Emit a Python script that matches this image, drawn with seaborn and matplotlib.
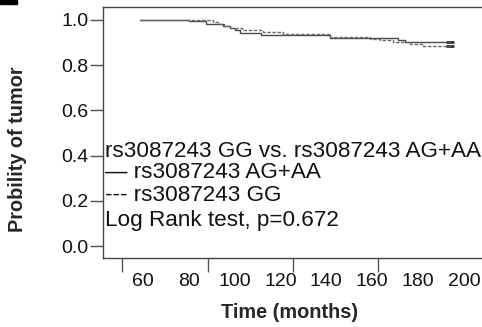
import seaborn as sns
import pandas as pd
import numpy as np
import matplotlib.pyplot as plt
from matplotlib.patches import Rectangle

# Kaplan-Meier step values
time_ag_aa = [58.7, 80, 87.6, 95.1, 98, 100.3, 102.5, 111.5, 141.5, 171.3, 174.3, 193.9]
surv_ag_aa = [1.0, 0.997, 0.984, 0.973, 0.964, 0.955, 0.942, 0.932, 0.920, 0.912, 0.902, 0.902]

time_gg = [58.7, 90.5, 93, 95.5, 98, 103, 112.5, 121, 141.5, 159, 163.4, 169.2, 176.4, 182.2, 193.9]
surv_gg = [1.0, 0.992, 0.983, 0.974, 0.966, 0.956, 0.946, 0.937, 0.925, 0.917, 0.910, 0.901, 0.895, 0.887, 0.887]

groups = ["rs3087243 AG+AA", "rs3087243 GG"]
x_labels = [60, 80, 100, 120, 140, 160, 180, 200]
x_marks = [50.8, 88.3, 125.4, 162.4, 200]
y_ticks = [0.0, 0.2, 0.4, 0.6, 0.8, 1.0]
notes = ["rs3087243 GG vs. rs3087243 AG+AA",
         "\u2014 rs3087243 AG+AA",
         "--- rs3087243 GG",
         "Log Rank test, p=0.672"]

df = pd.concat([
    pd.DataFrame({"time": time_ag_aa, "surv": surv_ag_aa, "group": groups[0]}),
    pd.DataFrame({"time": time_gg, "surv": surv_gg, "group": groups[1]}),
])

sns.set_style("white")
plt.rcParams['font.family'] = ['Liberation Sans', 'DejaVu Sans']

fig = plt.figure(figsize=(4.82, 3.27), dpi=100)
ax = fig.add_axes([0.2137, 0.211, 0.784, 0.7676])

sns.lineplot(data=df, x="time", y="surv", hue="group", style="group",
             palette={groups[0]: "#4a4a4a", groups[1]: "#6a6a6a"},
             dashes={groups[0]: "", groups[1]: (2.5, 1.2)},
             estimator=None, sort=True, drawstyle="steps-post",
             linewidth=1.0, legend=False, ax=ax)

# censor marks at the end of each curve
ends = df.groupby("group").tail(1)
sns.scatterplot(data=ends, x="time", y="surv", marker="_", s=40, color="#333333",
                linewidth=2, legend=False, ax=ax)

ax.set_xlim(42.6, 207.4)
ax.set_ylim(-0.053, 1.0575)

ax.set_xticks(x_labels)
ax.set_xticklabels([str(v) for v in x_labels])
ax.set_xticks(x_marks, minor=True)
ax.tick_params(axis="x", which="major", length=0, pad=11, labelsize=14, colors="#111111")
ax.tick_params(axis="x", which="minor", length=10, width=1, direction="out",
               bottom=True, color="#555555")

ax.set_yticks(y_ticks)
ax.set_yticklabels([f"{v:.1f}" for v in y_ticks])
ax.tick_params(axis="y", which="major", length=9.5, width=1, direction="out",
               left=True, pad=1, labelsize=14, color="#555555", labelcolor="#111111")

for side in ["left", "bottom", "top"]:
    ax.spines[side].set_color("#444444")
    ax.spines[side].set_linewidth(1)
ax.spines["right"].set_visible(False)

ax.set_xlabel("Time (months)", fontsize=14.3, fontweight="bold", va="center")
ax.xaxis.set_label_coords(0.495, -0.219)
ax.set_ylabel("Probility of tumor", fontsize=14.3, fontweight="bold", va="center")
ax.yaxis.set_label_coords(-0.2275, 0.434)

for txt, yy in zip(notes, [0.4235, 0.339, 0.2482, 0.1486]):
    ax.text(0.004, yy, txt, transform=ax.transAxes, fontsize=16.2,
            va="center", ha="left", color="#111111")

# fragment of the panel letter at the top left corner
fig.add_artist(Rectangle((0, 1 - 4 / 327), 17 / 482, 4 / 327,
                         transform=fig.transFigure, color="black"))

fig.savefig("out.png", dpi=100)
